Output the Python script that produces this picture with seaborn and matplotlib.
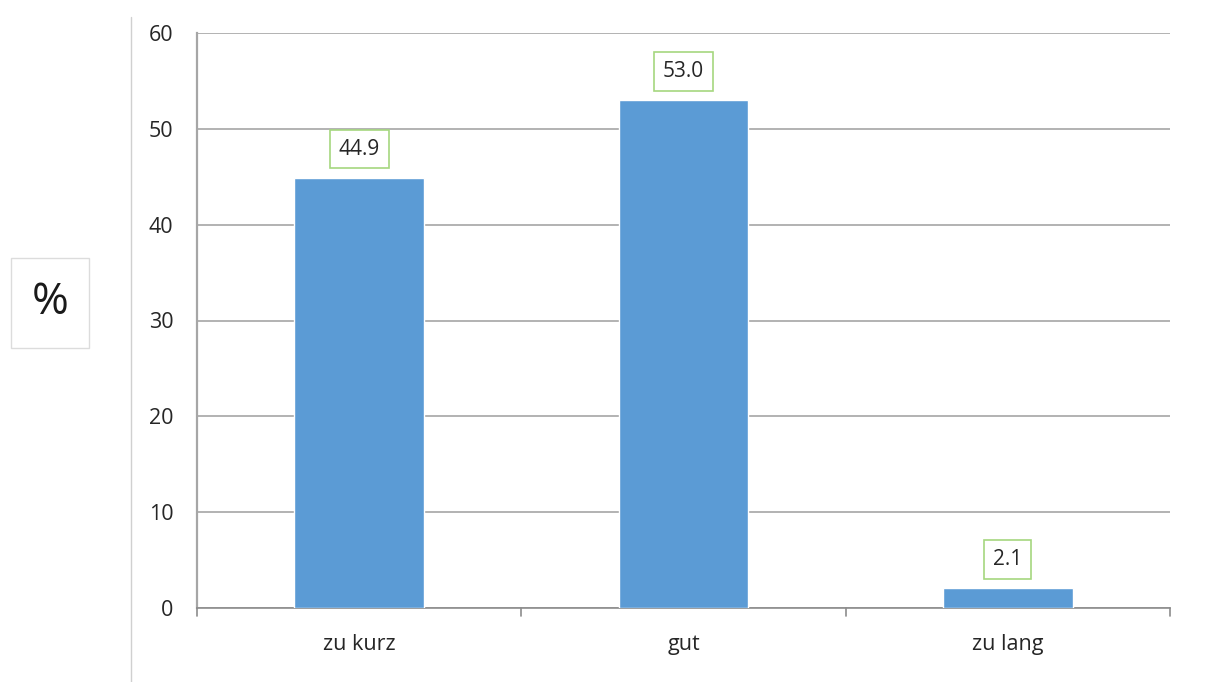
import matplotlib
matplotlib.use("Agg")
import matplotlib.pyplot as plt
from matplotlib.lines import Line2D
from matplotlib.patches import Rectangle
import seaborn as sns
import pandas as pd

categories = ["zu kurz", "gut", "zu lang"]
values = [44.9, 53.0, 2.1]
y_ticks = [0, 10, 20, 30, 40, 50, 60]

sns.set_theme(style="white")
plt.rcParams["font.family"] = ["Open Sans", "DejaVu Sans"]

df = pd.DataFrame({"Kategorie": categories, "Prozent": values})

fig = plt.figure(figsize=(12.05, 6.82), dpi=100)
ax = fig.add_axes([197 / 1205, 74 / 682, 973 / 1205, 575 / 682])

sns.barplot(data=df, x="Kategorie", y="Prozent", color="#5B9BD5",
            width=0.4, saturation=1, ax=ax, zorder=3)

ax.set_xlim(-0.5, len(categories) - 0.5)
ax.set_ylim(0, 60)
ax.set_yticks(y_ticks)
ax.set_yticklabels([str(t) for t in y_ticks], fontsize=15.5, color="#262626")
ax.set_xlabel("")
ax.set_ylabel("")
ax.tick_params(axis="x", length=0, pad=19, labelsize=15.5, labelcolor="#262626")
ax.tick_params(axis="y", length=9, width=1.2, color="#8C8C8C", pad=8)

# category separators on the x axis
for b in [-0.5, 0.5, 1.5, 2.5]:
    ax.plot([b, b], [0, -0.014], transform=ax.get_xaxis_transform(),
            color="#8C8C8C", lw=1.2, clip_on=False, zorder=4)

ax.yaxis.grid(True, color="#A6A6A6", lw=1.2, zorder=0)
ax.xaxis.grid(False)
for side in ["top", "right"]:
    ax.spines[side].set_visible(False)
ax.spines["left"].set_color("#A6A6A6")
ax.spines["left"].set_linewidth(1.6)
ax.spines["bottom"].set_color("#8C8C8C")
ax.spines["bottom"].set_linewidth(1.2)

# value labels in green-framed boxes
for i, v in enumerate(values):
    ax.annotate(f"{v:.1f}", xy=(i, v), xytext=(0, 20.5), textcoords="offset points",
                ha="center", va="center", fontsize=15, color="#262626",
                bbox=dict(boxstyle="square,pad=0.42", fc="white",
                          ec="#A5D77F", lw=1.2), zorder=5)

# unit label at the left
fig.patches.append(Rectangle((11 / 1205, 1 - 348 / 682), 78 / 1205, 90 / 682,
                             transform=fig.transFigure, fill=False,
                             ec="#DCDCDC", lw=1.0))
fig.text(50 / 1205, 1 - 303 / 682, "%", ha="center", va="center",
         fontsize=32, color="#1A1A1A")

# vertical divider line
fig.lines.append(Line2D([131 / 1205, 131 / 1205], [0, 1 - 17 / 682],
                        transform=fig.transFigure, color="#D0D0D0", lw=1.0))

fig.savefig("out.png", dpi=100)
